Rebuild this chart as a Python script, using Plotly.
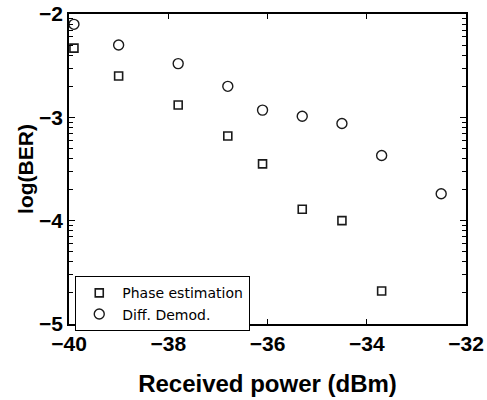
import math
import plotly.graph_objects as go

# Data
power_sq = [-39.9, -39.0, -37.8, -36.8, -36.1, -35.3, -34.5, -33.7]
log_ber_phase = [-2.33, -2.60, -2.88, -3.18, -3.45, -3.89, -4.00, -4.68]

power_ci = [-39.9, -39.0, -37.8, -36.8, -36.1, -35.3, -34.5, -33.7, -32.5]
log_ber_diff = [-2.10, -2.30, -2.48, -2.70, -2.93, -2.99, -3.06, -3.37, -3.74]

x_ticks = [-40, -38, -36, -34, -32]
y_ticks = [-2, -3, -4, -5]

minor_y = [d + math.log10(k) for d in (-5, -4, -3) for k in range(2, 10)]

ink = "#1a1a1a"
font = "Liberation Sans"

fig = go.Figure()
fig.add_trace(go.Scatter(
    x=power_sq, y=log_ber_phase, mode="markers", name="Phase estimation",
    marker=dict(symbol="square-open", size=8, color=ink, line=dict(width=1.6, color=ink)),
))
fig.add_trace(go.Scatter(
    x=power_ci, y=log_ber_diff, mode="markers", name="Diff. Demod.",
    marker=dict(symbol="circle-open", size=10, color=ink, line=dict(width=1.4, color=ink)),
))

fig.update_layout(
    width=487, height=400,
    margin=dict(l=69, r=21, t=14, b=76),
    paper_bgcolor="white", plot_bgcolor="white",
    font=dict(family=font, color="black"),
    showlegend=True,
    legend=dict(
        x=0.015, y=0.155, xanchor="left", yanchor="top",
        bordercolor="black", borderwidth=1.3, bgcolor="white",
        font=dict(family="DejaVu Sans", size=14, color="black"),
        tracegroupgap=0, itemwidth=36, entrywidth=180,
    ),
)

fig.update_xaxes(
    range=[-40, -32], tickvals=x_ticks, ticktext=["\u2212" + str(abs(v)) for v in x_ticks],
    showgrid=False, zeroline=False, automargin=False,
    showline=True, linecolor="black", linewidth=1.5, mirror="ticks",
    ticks="inside", ticklen=5, tickwidth=1.2, tickcolor="black",
    tickfont=dict(family=font, size=21, color="black", weight="bold"),
    title=dict(text="<b>Received power (dBm)</b>", font=dict(family=font, size=24, color="black"), standoff=21),
)
fig.update_yaxes(
    range=[-5, -2], tickvals=y_ticks, ticktext=["\u2212" + str(abs(v)) for v in y_ticks],
    showgrid=False, zeroline=False, automargin=False,
    showline=True, linecolor="black", linewidth=1.5, mirror="ticks",
    ticks="inside", ticklen=6, tickwidth=1.2, tickcolor="black",
    tickfont=dict(family=font, size=21, color="black", weight="bold"),
    minor=dict(tickmode="array", tickvals=minor_y, ticks="inside", ticklen=4, tickwidth=1, tickcolor="black", showgrid=False),
    title=dict(text="<b>log(BER)</b>", font=dict(family=font, size=21, color="black"), standoff=0),
)

fig.write_html("out.html")
